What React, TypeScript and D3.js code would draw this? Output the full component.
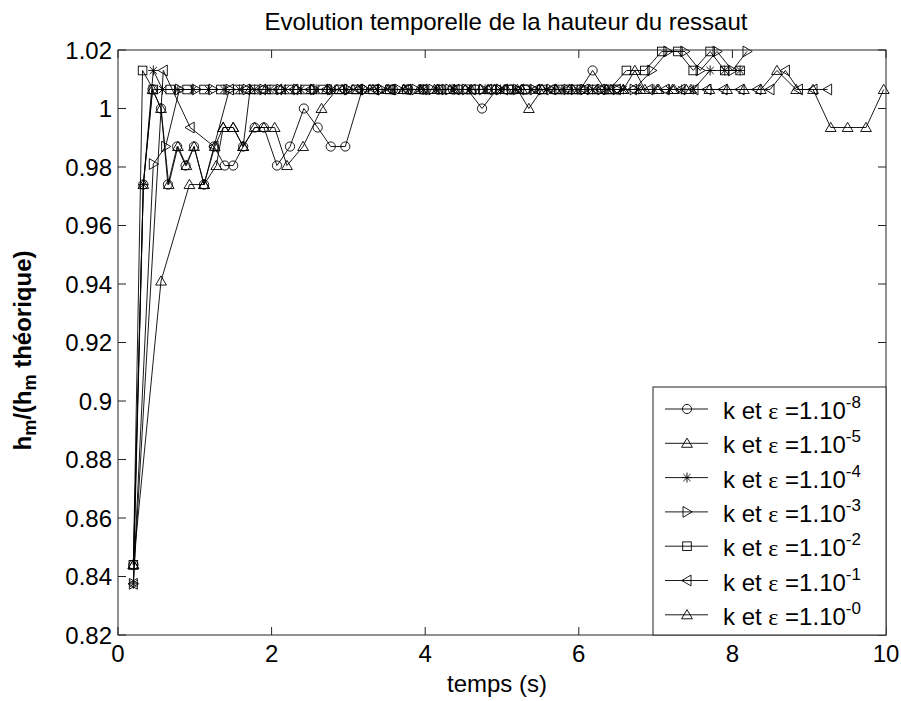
import React from 'react'
import * as d3 from 'd3'

// pixel frame of the figure (MATLAB-like axes box)
const WIDTH = 901
const HEIGHT = 701
const AX = { left: 118, right: 886, top: 50, bottom: 635 }

const xTicks = [0, 2, 4, 6, 8, 10]
const yTicks = [0.82, 0.84, 0.86, 0.88, 0.9, 0.92, 0.94, 0.96, 0.98, 1, 1.02]

type Pt = [number, number]

// [temps (s), h_m / h_m theorique]
const serieE8: Pt[] = [
  [0.2, 0.844], [0.33, 0.974], [0.45, 1.0065], [0.56, 1.0], [0.65, 0.974], [0.77, 0.987],
  [0.88, 0.9805], [0.99, 0.987], [1.12, 0.974], [1.25, 0.987], [1.39, 0.9805], [1.5, 0.9805],
  [1.63, 0.987], [1.78, 0.9935], [1.9, 0.9935], [2.07, 0.9805], [2.24, 0.987], [2.42, 1.0],
  [2.6, 0.9935], [2.77, 0.987], [2.96, 0.987], [3.18, 1.0065], [3.38, 1.0065], [3.58, 1.0065],
  [3.78, 1.0065], [3.97, 1.0065], [4.17, 1.0065], [4.36, 1.0065], [4.55, 1.0065], [4.74, 1.0],
  [4.93, 1.0065], [5.12, 1.0065], [5.31, 1.0065], [5.5, 1.0065], [5.68, 1.0065], [5.86, 1.0065],
  [6.02, 1.0065], [6.18, 1.013], [6.34, 1.0065], [6.5, 1.0065],
]

const serieE5: Pt[] = [
  [0.2, 0.844], [0.33, 0.974], [0.45, 1.0065], [0.56, 1.0], [0.66, 0.974], [0.78, 0.987],
  [0.89, 0.9805], [0.99, 0.987], [1.12, 0.974], [1.26, 0.987], [1.37, 0.9935], [1.5, 0.9935],
  [1.63, 0.987], [1.72, 1.0065], [1.92, 1.0065], [2.12, 1.0065], [2.32, 1.0065], [2.52, 1.0065],
  [2.72, 1.0065], [2.92, 1.0065], [3.12, 1.0065], [3.32, 1.0065], [3.52, 1.0065], [3.72, 1.0065],
  [3.92, 1.0065], [4.12, 1.0065], [4.32, 1.0065], [4.52, 1.0065], [4.72, 1.0065], [4.9, 1.0065],
  [5.06, 1.0065], [5.2, 1.0065], [5.35, 1.0], [5.52, 1.0065], [5.7, 1.0065], [5.88, 1.0065],
  [6.06, 1.0065], [6.24, 1.0065], [6.42, 1.0065], [6.58, 1.0065], [6.73, 1.013], [6.86, 1.0065],
  [7.04, 1.0065], [7.22, 1.0065], [7.4, 1.0065],
]

const serieE4: Pt[] = [
  [0.2, 0.8375], [0.33, 0.974], [0.46, 1.013], [0.58, 1.0065], [0.78, 1.0065], [0.98, 1.0065],
  [1.18, 1.0065], [1.38, 1.0065], [1.58, 1.0065], [1.78, 1.0065], [1.98, 1.0065], [2.18, 1.0065],
  [2.38, 1.0065], [2.58, 1.0065], [2.78, 1.0065], [2.98, 1.0065], [3.18, 1.0065], [3.38, 1.0065],
  [3.58, 1.0065], [3.78, 1.0065], [3.98, 1.0065], [4.18, 1.0065], [4.38, 1.0065], [4.58, 1.0065],
  [4.78, 1.0065], [4.98, 1.0065], [5.18, 1.0065], [5.38, 1.0065], [5.58, 1.0065], [5.78, 1.0065],
  [5.98, 1.0065], [6.18, 1.0065], [6.38, 1.0065], [6.58, 1.0065], [6.78, 1.0065], [6.98, 1.0065],
  [7.18, 1.0065], [7.34, 1.0065], [7.49, 1.0065], [7.71, 1.013], [7.9, 1.013], [8.1, 1.013],
]

const serieE3: Pt[] = [
  [0.2, 0.8375], [0.46, 0.981], [0.62, 0.987], [0.8, 1.0065], [1.02, 1.0065], [1.24, 1.0065],
  [1.46, 1.0065], [1.68, 1.0065], [1.9, 1.0065], [2.12, 1.0065], [2.34, 1.0065], [2.56, 1.0065],
  [2.78, 1.0065], [3.0, 1.0065], [3.22, 1.0065], [3.44, 1.0065], [3.66, 1.0065], [3.88, 1.0065],
  [4.1, 1.0065], [4.32, 1.0065], [4.54, 1.0065], [4.76, 1.0065], [4.98, 1.0065], [5.2, 1.0065],
  [5.42, 1.0065], [5.64, 1.0065], [5.86, 1.0065], [6.08, 1.0065], [6.3, 1.0065], [6.5, 1.0065],
  [6.72, 1.0065], [6.95, 1.013], [7.16, 1.0195], [7.38, 1.0195], [7.58, 1.013], [7.8, 1.0195],
  [8.0, 1.013], [8.19, 1.0195],
]

const serieE2: Pt[] = [
  [0.2, 0.844], [0.32, 1.013], [0.46, 1.0065], [0.68, 1.0065], [0.9, 1.0065], [1.12, 1.0065],
  [1.34, 1.0065], [1.56, 1.0065], [1.78, 1.0065], [2.0, 1.0065], [2.22, 1.0065], [2.44, 1.0065],
  [2.66, 1.0065], [2.88, 1.0065], [3.1, 1.0065], [3.32, 1.0065], [3.54, 1.0065], [3.76, 1.0065],
  [3.98, 1.0065], [4.2, 1.0065], [4.42, 1.0065], [4.64, 1.0065], [4.86, 1.0065], [5.08, 1.0065],
  [5.3, 1.0065], [5.52, 1.0065], [5.74, 1.0065], [5.96, 1.0065], [6.18, 1.0065], [6.4, 1.0065],
  [6.62, 1.013], [6.86, 1.013], [7.08, 1.0195], [7.29, 1.0195], [7.49, 1.013], [7.71, 1.0195],
  [7.9, 1.013], [8.1, 1.013],
]

const serieE1: Pt[] = [
  [0.2, 0.8375], [0.59, 1.013], [0.94, 0.9935], [1.25, 0.987], [1.45, 1.0065], [1.66, 1.0065],
  [1.87, 1.0065], [2.08, 1.0065], [2.29, 1.0065], [2.5, 1.0065], [2.71, 1.0065], [2.92, 1.0065],
  [3.13, 1.0065], [3.34, 1.0065], [3.55, 1.0065], [3.76, 1.0065], [3.97, 1.0065], [4.18, 1.0065],
  [4.39, 1.0065], [4.6, 1.0065], [4.81, 1.0065], [5.02, 1.0065], [5.23, 1.0065], [5.44, 1.0065],
  [5.65, 1.0065], [5.86, 1.0065], [6.07, 1.0065], [6.28, 1.0065], [6.49, 1.0065], [6.7, 1.0065],
  [6.91, 1.0065], [7.12, 1.0065], [7.33, 1.0065], [7.5, 1.0065], [7.67, 1.0065], [7.88, 1.0065],
  [8.1, 1.0065], [8.32, 1.0065], [8.49, 1.0065], [8.69, 1.013], [8.86, 1.0065], [9.05, 1.0065],
  [9.24, 1.0065],
]

const serieE0: Pt[] = [
  [0.2, 0.844], [0.56, 0.941], [0.93, 0.974], [1.12, 0.974], [1.28, 0.9805], [1.37, 0.9935],
  [1.5, 0.9935], [1.63, 0.987], [1.78, 0.9935], [1.9, 0.9935], [2.04, 0.9935], [2.2, 0.9805],
  [2.41, 0.987], [2.65, 1.0], [2.85, 1.0065], [3.06, 1.0065], [3.28, 1.0065], [3.5, 1.0065],
  [3.72, 1.0065], [3.94, 1.0065], [4.16, 1.0065], [4.38, 1.0065], [4.6, 1.0065], [4.82, 1.0065],
  [5.04, 1.0065], [5.26, 1.0065], [5.48, 1.0065], [5.7, 1.0065], [5.92, 1.0065], [6.14, 1.0065],
  [6.36, 1.0065], [6.58, 1.0065], [6.8, 1.0065], [7.02, 1.0065], [7.24, 1.0065], [7.46, 1.0065],
  [7.7, 1.0065], [7.93, 1.0065], [8.15, 1.0065], [8.37, 1.0065], [8.58, 1.013], [8.83, 1.0065],
  [9.05, 1.0065], [9.28, 0.9935], [9.5, 0.9935], [9.74, 0.9935], [9.97, 1.0065],
]

const series = [serieE8, serieE5, serieE4, serieE3, serieE2, serieE1, serieE0]
const markers = ['circle', 'triUp', 'star', 'triRight', 'square', 'triLeft', 'triUp']
const exponents = ['-8', '-5', '-4', '-3', '-2', '-1', '-0']

const FONT = '"Liberation Sans", Arial, Helvetica, sans-serif'

function Marker({ kind, x, y }: { kind: string; x: number; y: number }) {
  const common = { fill: 'none', stroke: '#000', strokeWidth: 0.9 }
  switch (kind) {
    case 'circle':
      return <circle cx={x} cy={y} r={4.6} {...common} />
    case 'square':
      return <rect x={x - 4.3} y={y - 4.3} width={8.6} height={8.6} {...common} />
    case 'triUp':
      return <path d={`M${x},${y - 5.2}L${x + 5.4},${y + 4}L${x - 5.4},${y + 4}Z`} {...common} />
    case 'triRight':
      return <path d={`M${x + 5.2},${y}L${x - 4},${y - 5.4}L${x - 4},${y + 5.4}Z`} {...common} />
    case 'triLeft':
      return <path d={`M${x - 5.2},${y}L${x + 4},${y - 5.4}L${x + 4},${y + 5.4}Z`} {...common} />
    default:
      return (
        <path
          d={`M${x - 5},${y}H${x + 5}M${x},${y - 5}V${y + 5}M${x - 3.6},${y - 3.6}L${x + 3.6},${y + 3.6}M${x - 3.6},${y + 3.6}L${x + 3.6},${y - 3.6}`}
          {...common}
        />
      )
  }
}

export default function App(): JSX.Element {
  const x = d3.scaleLinear().domain([0, 10]).range([AX.left, AX.right])
  const y = d3.scaleLinear().domain([0.82, 1.02]).range([AX.bottom, AX.top])

  const lineFn = d3
    .line<Pt>()
    .x((d) => x(d[0]))
    .y((d) => y(d[1]))

  const tickLen = 8
  const legend = { left: 653, top: 387, row0: 409, step: 34.3 }
  const yFmt = (v: number) => String(+v.toFixed(2))

  return (
    <svg
      width={WIDTH}
      height={HEIGHT}
      style={{ position: 'absolute', left: 0, top: 0, background: '#fff' }}
      fontFamily={FONT}
    >
      <rect x={0} y={0} width={WIDTH} height={HEIGHT} fill="#fff" />

      {/* series */}
      <g>
        {series.map((s, i) => (
          <g key={i}>
            <path d={lineFn(s) || ''} fill="none" stroke="#000" strokeWidth={0.9} />
            {s.map((d, j) => (
              <Marker key={j} kind={markers[i]} x={x(d[0])} y={y(d[1])} />
            ))}
          </g>
        ))}
      </g>

      {/* axes box + ticks */}
      <g stroke="#222" strokeWidth={1}>
        <rect
          x={AX.left}
          y={AX.top}
          width={AX.right - AX.left}
          height={AX.bottom - AX.top}
          fill="none"
        />
        {xTicks.map((t) => (
          <g key={t}>
            <line x1={x(t)} x2={x(t)} y1={AX.bottom} y2={AX.bottom - tickLen} />
            <line x1={x(t)} x2={x(t)} y1={AX.top} y2={AX.top + tickLen} />
          </g>
        ))}
        {yTicks.map((t) => (
          <g key={t}>
            <line x1={AX.left} x2={AX.left + tickLen} y1={y(t)} y2={y(t)} />
            <line x1={AX.right} x2={AX.right - tickLen} y1={y(t)} y2={y(t)} />
          </g>
        ))}
      </g>

      <g fontSize={24} fill="#000">
        {xTicks.map((t) => (
          <text key={t} x={x(t)} y={AX.bottom + 27} textAnchor="middle">
            {t}
          </text>
        ))}
        {yTicks.map((t) => (
          <text key={t} x={AX.left - 6} y={y(t) + 8.5} textAnchor="end">
            {yFmt(t)}
          </text>
        ))}
      </g>

      {/* legend */}
      <g>
        <rect
          x={legend.left}
          y={legend.top}
          width={AX.right - legend.left}
          height={AX.bottom - legend.top}
          fill="#fff"
          stroke="#222"
        />
        {exponents.map((e, i) => {
          const ly = legend.row0 + i * legend.step
          return (
            <g key={e}>
              <line x1={665} x2={708} y1={ly} y2={ly} stroke="#000" strokeWidth={0.9} />
              <Marker kind={markers[i]} x={687} y={ly} />
              <text x={723} y={ly + 10} fontSize={24}>
                k et <tspan fontFamily='"Liberation Serif", "DejaVu Serif", serif'>ε</tspan> =1.10
                <tspan fontSize={17} dy={-11}>
                  {e}
                </tspan>
              </text>
            </g>
          )
        })}
      </g>

      {/* titles */}
      <text x={(AX.left + AX.right) / 2 + 4} y={30} textAnchor="middle" fontSize={24}>
        Evolution temporelle de la hauteur du ressaut
      </text>
      <text x={(AX.left + AX.right) / 2 - 5} y={692} textAnchor="middle" fontSize={24}>
        temps (s)
      </text>
      <text
        transform={`translate(31,${(AX.top + AX.bottom) / 2 + 8}) rotate(-90)`}
        textAnchor="middle"
        fontSize={24}
        fontWeight="bold"
      >
        h<tspan fontSize={18} dy={5}>m</tspan>
        <tspan dy={-5}>/(h</tspan>
        <tspan fontSize={18} dy={5}>m</tspan>
        <tspan dy={-5}> théorique)</tspan>
      </text>
    </svg>
  )
}
